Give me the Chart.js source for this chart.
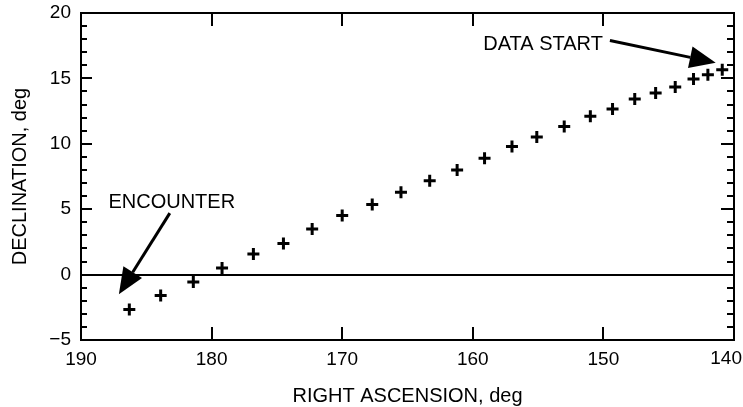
<!DOCTYPE html>
<html>
<head>
<meta charset="utf-8">
<script src="https://cdn.jsdelivr.net/npm/chart.js@4.4.0/dist/chart.umd.min.js"></script>
<style>
  body { margin: 0; background: #fff; }
  canvas { display: block; }
</style>
</head>
<body>
<canvas id="trackChart" width="743" height="407"></canvas>
<script>
// Track samples, encounter end first
const rightAscension = [186.3, 183.9, 181.4, 179.2, 176.8, 174.5, 172.3, 170.0, 167.7, 165.5, 163.3, 161.2,
                        159.1, 157.0, 155.1, 153.0, 151.0, 149.3, 147.6, 146.0, 144.5, 143.1, 142.0, 140.9];
const declination = [-2.67, -1.60, -0.56, 0.51, 1.58, 2.37, 3.49, 4.51, 5.35, 6.29, 7.18, 8.00,
                     8.89, 9.80, 10.52, 11.33, 12.10, 12.66, 13.43, 13.89, 14.34, 14.96, 15.28, 15.67];

const raTicks = [190, 180, 170, 160, 150, 140];
const decTicks = [-5, 0, 5, 10, 15, 20];

// callouts: label, label anchor, arrow tail, arrow tip (data units)
const noteLabels = ['ENCOUNTER', 'DATA START'];
const noteTextAt = [[187.9, 5.5], [159.2, 17.6]];
const noteArrowFrom = [[183.2, 4.7], [149.5, 17.9]];
const noteArrowTo = [[187.1, -1.5], [141.4, 16.2]];

const FONT = "'Liberation Sans', Arial, Helvetica, sans-serif";
Chart.defaults.font.family = FONT;
Chart.defaults.color = '#000';

function arrow(ctx, x1, y1, x2, y2) {
    const ang = Math.atan2(y2 - y1, x2 - x1);
    const len = 26, half = 11;
    const bx = x2 - len * Math.cos(ang), by = y2 - len * Math.sin(ang);
    ctx.beginPath();
    ctx.moveTo(x1, y1);
    ctx.lineTo(bx, by);
    ctx.lineWidth = 3;
    ctx.stroke();
    ctx.beginPath();
    ctx.moveTo(x2, y2);
    ctx.lineTo(bx + half * Math.sin(ang), by - half * Math.cos(ang));
    ctx.lineTo(bx - half * Math.sin(ang), by + half * Math.cos(ang));
    ctx.closePath();
    ctx.fill();
}

// frame, inward tick marks, last x label and callouts
const framePlugin = {
    id: 'frame',
    afterDraw(chart) {
        const ctx = chart.ctx;
        const area = chart.chartArea;
        const xs = chart.scales.x, ys = chart.scales.y;
        ctx.save();
        ctx.strokeStyle = '#000';
        ctx.fillStyle = '#000';
        ctx.lineWidth = 2;
        ctx.strokeRect(area.left, area.top, area.right - area.left, area.bottom - area.top);

        ctx.strokeStyle = '#000';
        ctx.lineWidth = 2;
        ctx.beginPath();
        for (let v = -5; v <= 20; v++) {
            const py = Math.round(ys.getPixelForValue(v));
            const major = v % 5 === 0;
            ctx.moveTo(area.left, py);
            ctx.lineTo(area.left + (major ? 11 : 6), py);
            ctx.moveTo(area.right, py);
            ctx.lineTo(area.right - (major ? 13 : 7), py);
        }
        raTicks.forEach(v => {
            const px = Math.round(xs.getPixelForValue(v));
            ctx.moveTo(px, area.bottom);
            ctx.lineTo(px, area.bottom - 13);
            ctx.moveTo(px, area.top);
            ctx.lineTo(px, area.top + 13);
        });
        ctx.stroke();

        // the 140 label would run off the canvas, so it is set flush right
        ctx.font = '19px ' + FONT;
        ctx.textAlign = 'right';
        ctx.textBaseline = 'middle';
        ctx.fillText('140', chart.width - 1, area.bottom + 18.5);

        ctx.font = '20px ' + FONT;
        ctx.textAlign = 'left';
        noteLabels.forEach((text, i) => {
            ctx.fillText(text, xs.getPixelForValue(noteTextAt[i][0]), ys.getPixelForValue(noteTextAt[i][1]));
            arrow(ctx,
                xs.getPixelForValue(noteArrowFrom[i][0]), ys.getPixelForValue(noteArrowFrom[i][1]),
                xs.getPixelForValue(noteArrowTo[i][0]), ys.getPixelForValue(noteArrowTo[i][1]));
        });
        ctx.restore();
    }
};

new Chart(document.getElementById('trackChart'), {
    type: 'scatter',
    data: {
        datasets: [{
            data: rightAscension.map((ra, i) => ({ x: ra, y: declination[i] })),
            pointStyle: 'cross',
            pointRadius: 6,
            borderWidth: 3,
            borderColor: '#000',
            backgroundColor: '#000'
        }]
    },
    options: {
        responsive: false,
        animation: false,
        layout: { padding: { top: 13, right: 2, left: 0, bottom: 0 } },
        plugins: {
            legend: { display: false },
            tooltip: { enabled: false }
        },
        scales: {
            x: {
                type: 'linear',
                reverse: true,
                min: 140,
                max: 190,
                afterBuildTicks: s => { s.ticks = raTicks.map(v => ({ value: v })); },
                afterFit: s => {
                    s.height = 67;
                    s.paddingLeft = 0;
                    s.paddingRight = 0;
                },
                grid: { display: false },
                border: { display: false },
                ticks: {
                    padding: 0,
                    font: { size: 19 },
                    maxRotation: 0,
                    callback: v => (v === 140 ? '' : v)
                },
                title: {
                    display: true,
                    text: 'RIGHT ASCENSION, deg',
                    font: { size: 20, lineHeight: 1 },
                    padding: { top: 0, bottom: 1 }
                }
            },
            y: {
                min: -5,
                max: 20,
                afterBuildTicks: s => { s.ticks = decTicks.map(v => ({ value: v })); },
                afterFit: s => {
                    s.width = 81;
                    s.paddingTop = 0;
                    s.paddingBottom = 0;
                },
                grid: {
                    drawTicks: false,
                    lineWidth: 2,
                    color: c => (c.tick && c.tick.value === 0 ? '#000' : 'rgba(0,0,0,0)')
                },
                border: { display: false },
                ticks: {
                    padding: 10,
                    font: { size: 19 },
                    callback: v => (v < 0 ? '\u2212' + Math.abs(v) : v)
                },
                title: {
                    display: true,
                    text: 'DECLINATION, deg',
                    font: { size: 20, lineHeight: 1 },
                    padding: { top: 10, bottom: 0 }
                }
            }
        }
    },
    plugins: [framePlugin]
});
</script>
</body>
</html>
